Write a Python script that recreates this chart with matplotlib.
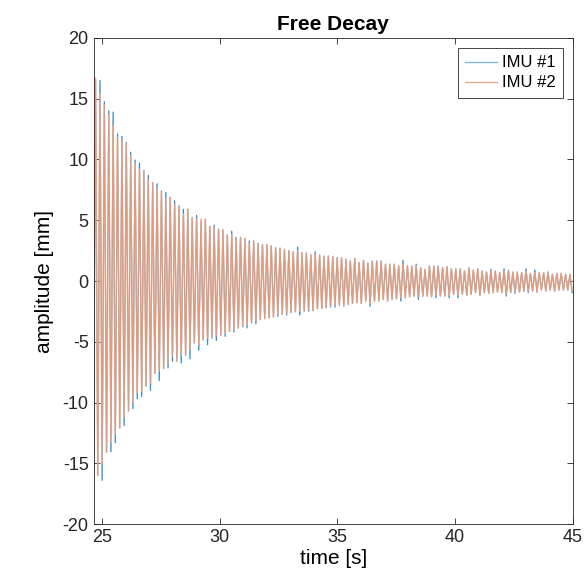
import matplotlib.pyplot as plt

plt.rcParams['font.family'] = ['Liberation Sans', 'DejaVu Sans']
plt.rcParams['axes.unicode_minus'] = False

# timing: first trough at the left edge, ~5.36 Hz
t_start = 24.644
period = 0.18644

# positive peaks per cycle [mm]
imu1_peaks = [16.6, 16.5, 14.75, 14.0, 13.9, 12.1, 11.9, 11.4, 10.6, 9.95,
              9.7, 9.1, 8.7, 8.1, 8.0, 7.4, 7.3, 6.9, 6.6, 6.2,
              5.9, 5.9, 5.2, 5.4, 4.9, 5.1, 4.5, 4.6, 4.27, 4.2,
              3.8, 4.1, 3.6, 3.6, 3.5, 3.3, 3.3, 3.1, 3.0, 3.0,
              2.9, 2.75, 2.7, 2.6, 2.5, 2.4, 2.8, 2.35, 2.3, 2.15,
              2.4, 2.15, 2.05, 2.05, 2.0, 1.93, 1.93, 1.79, 1.65, 1.87,
              1.52, 1.7, 1.46, 1.65, 1.65, 1.65, 1.38, 1.38, 1.38, 1.24,
              1.7, 1.24, 1.24, 1.38, 1.1, 0.96, 1.24, 1.24, 1.24, 1.1,
              1.18, 1.0, 1.0, 1.0, 0.83, 1.1, 0.9, 1.0, 0.83, 0.74,
              0.96, 0.83, 0.69, 1.0, 0.88, 0.74, 0.74, 0.69, 1.0, 0.63,
              0.9, 0.69, 0.69, 0.74, 0.55, 0.63, 0.63, 0.55, 0.55]
imu2_peaks = [16.7, 15.4, 14.5, 13.7, 12.8, 11.8, 11.6, 11.3, 10.3, 9.6,
              9.2, 9.0, 8.3, 8.1, 7.6, 7.3, 6.8, 6.9, 6.3, 6.1,
              5.5, 5.9, 5.2, 5.1, 5.1, 5.1, 4.5, 4.4, 4.27, 4.2,
              3.8, 3.8, 3.5, 3.6, 3.5, 3.1, 3.3, 3.1, 3.0, 3.0,
              2.9, 2.75, 2.7, 2.6, 2.5, 2.4, 2.5, 2.35, 2.3, 2.15,
              2.2, 2.15, 2.05, 2.05, 2.0, 1.85, 1.93, 1.79, 1.65, 1.87,
              1.52, 1.7, 1.46, 1.65, 1.65, 1.6, 1.38, 1.38, 1.38, 1.24,
              1.38, 1.24, 1.24, 1.24, 1.1, 0.96, 1.24, 1.24, 1.2, 1.1,
              1.18, 1.0, 1.0, 1.0, 0.83, 1.1, 0.9, 1.0, 0.83, 0.74,
              0.83, 0.83, 0.69, 0.8, 0.88, 0.74, 0.74, 0.69, 0.8, 0.63,
              0.7, 0.69, 0.69, 0.74, 0.55, 0.63, 0.63, 0.55, 0.55]

# negative troughs per cycle [mm]
imu1_troughs = [-17.9, -16.0, -16.4, -14.1, -14.05, -13.3, -12.1, -11.9, -10.7, -10.5,
                -9.7, -9.5, -8.65, -9.0, -7.6, -8.2, -7.2, -7.15, -6.6, -6.6,
                -6.75, -6.1, -6.4, -5.1, -5.7, -4.85, -5.25, -4.7, -4.9, -4.46,
                -4.55, -4.13, -4.2, -3.86, -3.77, -3.86, -3.44, -3.53, -3.17, -3.1,
                -3.03, -2.97, -2.9, -2.75, -2.8, -2.6, -2.53, -2.8, -2.48, -2.48,
                -2.45, -2.29, -2.26, -2.2, -2.15, -2.15, -2.0, -2.07, -1.93, -1.85,
                -1.79, -1.85, -1.65, -2.07, -1.65, -1.65, -1.52, -1.65, -1.52, -1.46,
                -1.65, -1.38, -1.32, -1.24, -1.52, -1.24, -1.24, -1.3, -1.38, -1.24,
                -1.24, -1.38, -1.1, -1.38, -1.1, -1.18, -1.1, -0.96, -1.18, -0.96,
                -1.02, -0.96, -0.91, -0.96, -1.24, -0.96, -1.02, -0.91, -0.83, -0.96,
                -0.83, -0.91, -0.74, -0.83, -0.74, -0.83, -0.74, -0.74, -0.74, -0.96]
imu2_troughs = [-16.0, -16.0, -15.05, -14.1, -13.3, -12.6, -12.1, -11.2, -10.7, -10.0,
                -9.2, -9.1, -8.65, -8.4, -7.6, -7.4, -7.2, -6.7, -6.2, -6.6,
                -6.1, -6.1, -5.65, -5.1, -5.25, -4.85, -4.7, -4.65, -4.5, -4.46,
                -4.3, -4.13, -4.0, -3.86, -3.77, -3.6, -3.44, -3.25, -3.17, -3.1,
                -3.03, -2.97, -2.75, -2.75, -2.65, -2.6, -2.53, -2.48, -2.48, -2.34,
                -2.45, -2.29, -2.26, -2.2, -2.05, -2.0, -1.93, -2.07, -1.93, -1.85,
                -1.79, -1.85, -1.65, -1.85, -1.65, -1.65, -1.52, -1.65, -1.52, -1.46,
                -1.38, -1.38, -1.32, -1.24, -1.3, -1.24, -1.24, -1.3, -1.2, -1.24,
                -1.24, -1.2, -1.1, -1.18, -1.1, -1.18, -1.1, -0.96, -1.18, -0.96,
                -1.02, -0.96, -0.91, -0.96, -1.1, -0.96, -0.91, -0.91, -0.83, -0.83,
                -0.83, -0.91, -0.74, -0.83, -0.74, -0.83, -0.74, -0.74, -0.74, -0.8]

series_names = ['IMU #1', 'IMU #2']
x_ticks = [25, 30, 35, 40, 45]
y_ticks = [-20, -15, -10, -5, 0, 5, 10, 15, 20]


def build_trace(troughs, peaks):
    # trough, peak, trough, ... one half period apart
    t, y = [], []
    for j in range(len(troughs)):
        t.append(t_start + j * period)
        y.append(troughs[j])
        if j < len(peaks):
            t.append(t_start + (j + 0.5) * period)
            y.append(peaks[j])
    return t, y


t1, y1 = build_trace(imu1_troughs, imu1_peaks)
t2, y2 = build_trace(imu2_troughs, imu2_peaks)

blue = (0.0, 0.447, 0.741)
orange = (0.85, 0.325, 0.098)

fig = plt.figure(figsize=(5.87, 5.88), dpi=100)
ax = fig.add_axes([0.1593, 0.1088, 0.8168, 0.8266])

# wide, see-through strokes to get the soft look of the original export;
# a white copy under IMU #2 keeps it on top of IMU #1 like the original
ax.plot(t1, y1, color=blue, linewidth=0.9, alpha=0.8, label=series_names[0])
ax.plot(t2, y2, color='white', linewidth=0.9, label='_nolegend_')
ax.plot(t2, y2, color=orange, linewidth=0.9, alpha=0.6, label=series_names[1])

ax.set_xlim(24.65, 45)
ax.set_ylim(-20, 20)
ax.set_xticks(x_ticks)
ax.set_yticks(y_ticks)

axis_grey = (0.15, 0.15, 0.15)
for side in ax.spines.values():
    side.set_color(axis_grey)
    side.set_linewidth(0.6)
ax.tick_params(direction='in', top=True, right=True, length=4, width=0.6,
               colors=axis_grey, labelsize=13)

ax.set_title('Free Decay', fontsize=15, fontweight='bold', pad=6)
ax.set_xlabel('time [s]', fontsize=15, labelpad=2)
ax.set_ylabel('amplitude [mm]', fontsize=15, labelpad=6)

leg = ax.legend(loc='upper right', fontsize=12, fancybox=False, framealpha=1,
                edgecolor=axis_grey, borderaxespad=0.6, handlelength=1.9,
                borderpad=0.45, labelspacing=0.3, handletextpad=0.3)
leg.get_frame().set_linewidth(0.6)
for handle in leg.get_lines():
    handle.set_linewidth(1.0)
    handle.set_alpha(0.5)

plt.savefig('out.png', dpi=100)
